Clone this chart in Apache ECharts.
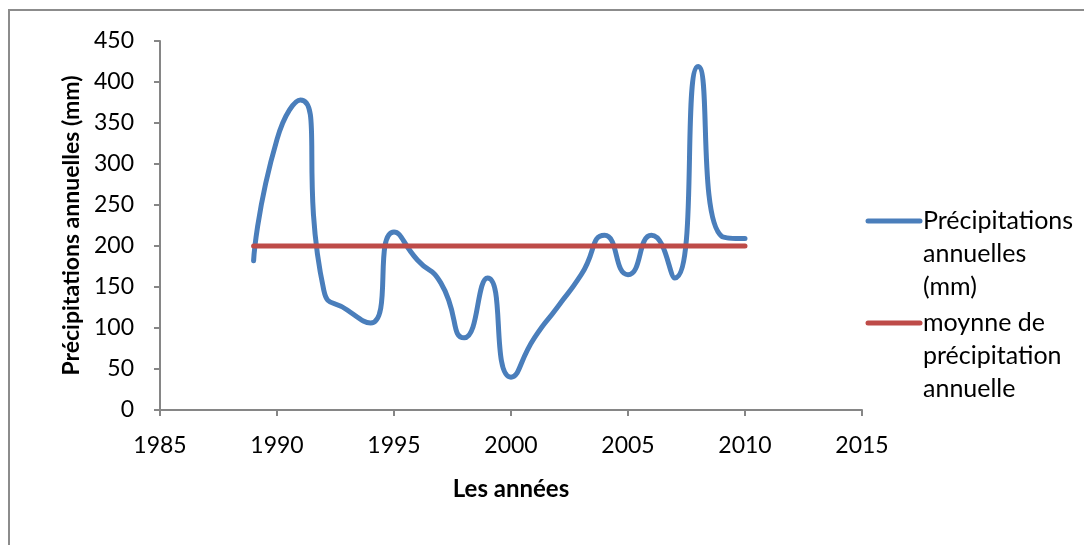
<!DOCTYPE html>
<html>
<head>
<meta charset="utf-8">
<script src="https://cdn.jsdelivr.net/npm/echarts@6/dist/echarts.min.js"></script>
<style>
  html, body { margin: 0; padding: 0; background: #fff; }
  #chart { width: 1084px; height: 545px; }
</style>
</head>
<body>
<div id="chart"></div>
<script>
// données
var years = [1989, 1990, 1991, 1992, 1993, 1994, 1995, 1996, 1997, 1998, 1999,
             2000, 2001, 2002, 2003, 2004, 2005, 2006, 2007, 2008, 2009, 2010];
var precip = [182, 330, 378, 146, 122, 106, 217, 183, 155, 88, 161,
              40, 88, 126, 165, 213, 165, 213, 161, 419, 212, 209];
var meanValue = 200;
var seriesNames = ["Précipitations annuelles (mm)", "moynne de précipitation annuelle"];
var legendLines = [["Précipitations", "annuelles", "(mm)"], ["moynne de", "précipitation", "annuelle"]];
var xTicks = { min: 1985, max: 2015, step: 5 };
var yTicks = { min: 0, max: 450, step: 50 };

var font = "Lato, 'Open Sans', sans-serif";
var blue = "#4A7EBB";
var red = "#BE4B48";

var chart = echarts.init(document.getElementById("chart"));

var precipData = years.map(function (y, i) { return [y, precip[i]]; });
var meanData = years.map(function (y) { return [y, meanValue]; });

// légende dessinée à la main pour garder le trait sur la première ligne
var legendGraphics = [];
var legendColors = [blue, red];
var legendTop = [221, 323];
legendLines.forEach(function (lines, k) {
  legendGraphics.push({
    type: "line",
    shape: { x1: 868, y1: legendTop[k], x2: 920, y2: legendTop[k] },
    style: { stroke: legendColors[k], lineWidth: 5, lineCap: "round" }
  });
  legendGraphics.push({
    type: "text",
    left: 923,
    top: legendTop[k] - 17,
    style: {
      text: lines.join("\n"),
      font: "25px " + font,
      fill: "#000",
      lineHeight: 33
    }
  });
});

var option = {
  animation: false,
  textStyle: { fontFamily: font },
  grid: { left: 160, top: 41, right: 222, bottom: 135 },
  xAxis: {
    type: "value",
    min: xTicks.min,
    max: xTicks.max,
    interval: xTicks.step,
    splitLine: { show: false },
    axisLine: { lineStyle: { color: "#868686", width: 2 } },
    axisTick: { show: true, length: 6, lineStyle: { color: "#868686", width: 2 } },
    axisLabel: {
      color: "#000", fontSize: 23, margin: 24, fontFamily: font,
      formatter: function (v) { return String(v); }
    },
    name: "Les années",
    nameLocation: "middle",
    nameGap: 67,
    nameTextStyle: { color: "#000", fontSize: 24, fontWeight: "bold", fontFamily: font }
  },
  yAxis: {
    type: "value",
    min: yTicks.min,
    max: yTicks.max,
    interval: yTicks.step,
    splitLine: { show: false },
    axisLine: { show: true, lineStyle: { color: "#868686", width: 2 } },
    axisTick: { show: true, length: 6, lineStyle: { color: "#868686", width: 2 } },
    axisLabel: { color: "#000", fontSize: 23, margin: 26, fontFamily: font },
    name: "Précipitations annuelles (mm)",
    nameLocation: "middle",
    nameGap: 77,
    nameTextStyle: { color: "#000", fontSize: 23, fontWeight: "bold", fontFamily: font }
  },
  graphic: [
    {
      type: "rect",
      shape: { x: 9, y: 10, width: 1090, height: 560 },
      style: { fill: null, stroke: "#8c8c8c", lineWidth: 2 },
      silent: true
    }
  ].concat(legendGraphics),
  series: [
    {
      name: seriesNames[0],
      type: "line",
      data: precipData,
      smooth: 0.6,
      showSymbol: false,
      lineStyle: { color: blue, width: 5, cap: "round", join: "round" },
      itemStyle: { color: blue },
      z: 2
    },
    {
      name: seriesNames[1],
      type: "line",
      data: meanData,
      showSymbol: false,
      lineStyle: { color: red, width: 5, cap: "round" },
      itemStyle: { color: red },
      z: 3
    }
  ]
};

chart.setOption(option);
</script>
</body>
</html>
